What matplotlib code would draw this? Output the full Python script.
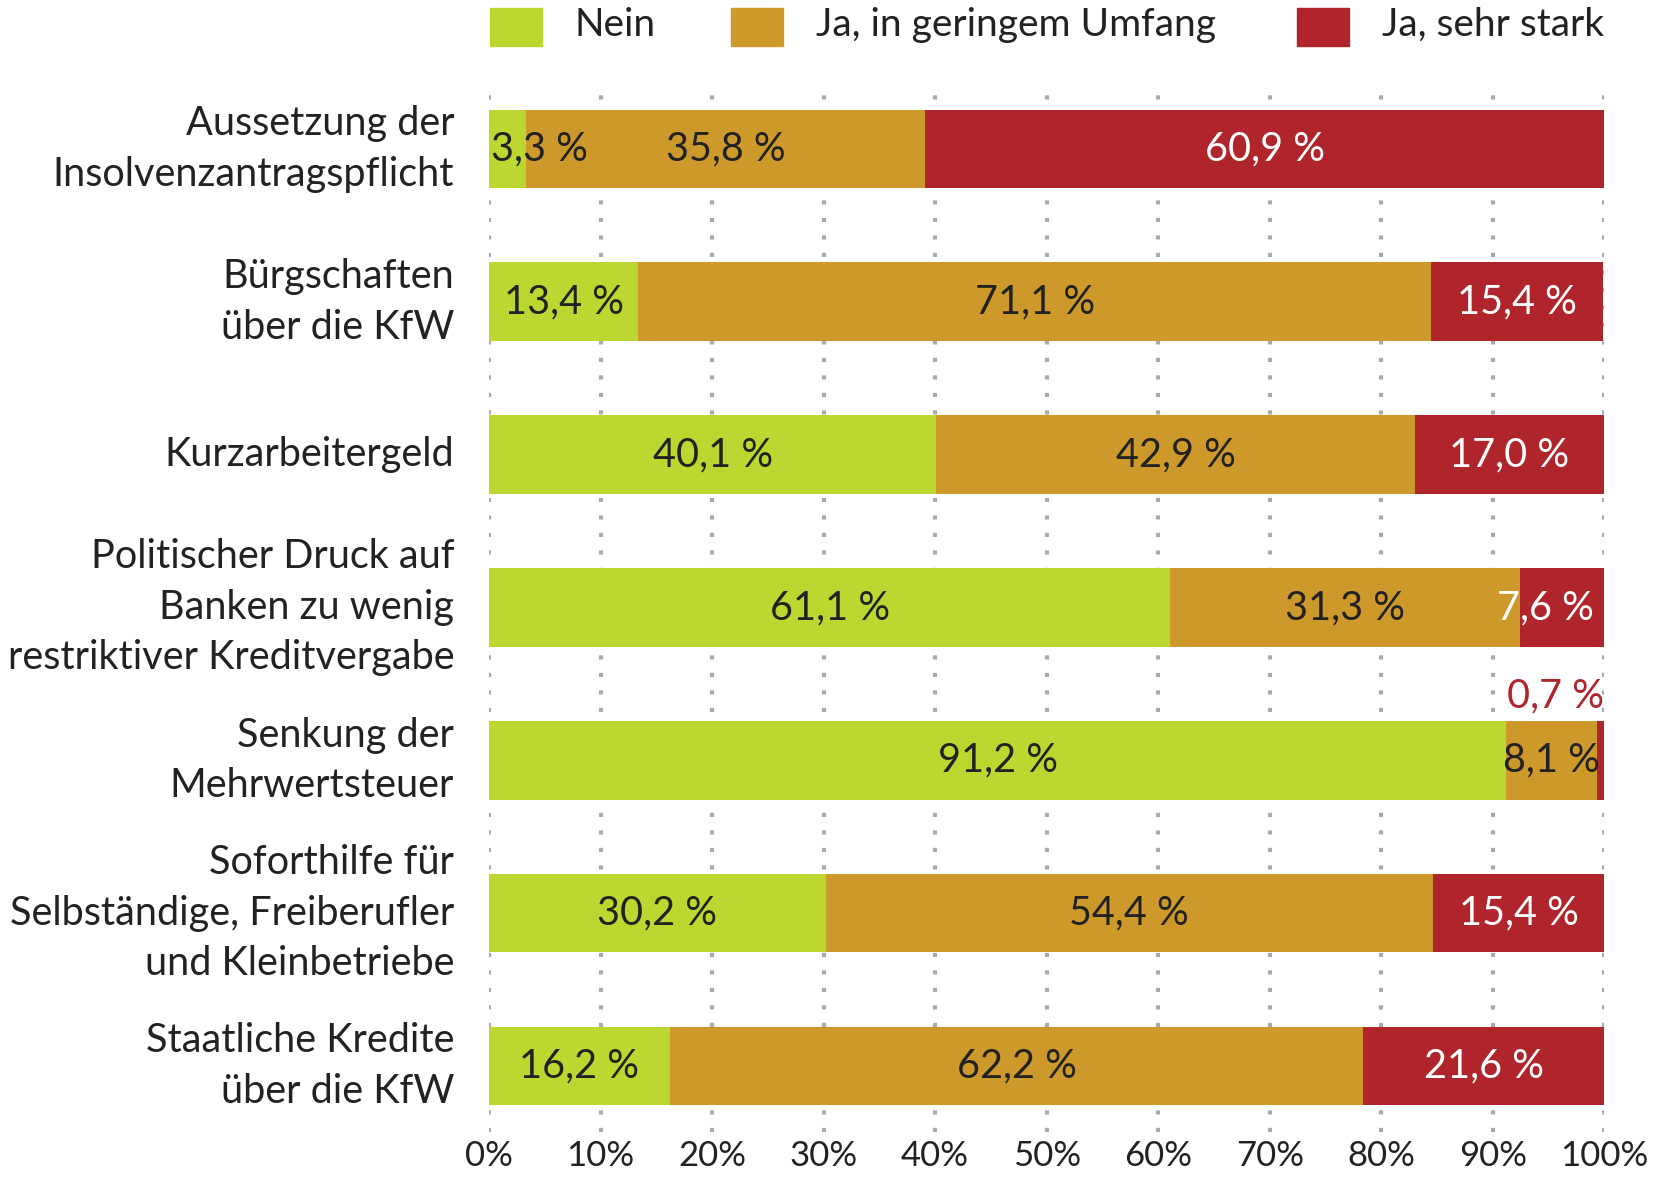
import matplotlib
matplotlib.use("Agg")
import matplotlib.pyplot as plt
from matplotlib.patches import Rectangle

plt.rcParams['font.family'] = ['Lato', 'DejaVu Sans']

categories = [
    "Aussetzung der\nInsolvenzantragspflicht",
    "Bürgschaften\nüber die KfW",
    "Kurzarbeitergeld",
    "Politischer Druck auf\nBanken zu wenig\nrestriktiver Kreditvergabe",
    "Senkung der\nMehrwertsteuer",
    "Soforthilfe für\nSelbständige, Freiberufler\nund Kleinbetriebe",
    "Staatliche Kredite\nüber die KfW",
]
nein = [3.3, 13.4, 40.1, 61.1, 91.2, 30.2, 16.2]
gering = [35.8, 71.1, 42.9, 31.3, 8.1, 54.4, 62.2]
stark = [60.9, 15.4, 17.0, 7.6, 0.7, 15.4, 21.6]
series_names = ["Nein", "Ja, in geringem Umfang", "Ja, sehr stark"]
colors = ["#BED730", "#CD992B", "#B0252B"]
text_colors = ["#222222", "#222222", "white"]
xticks = [0, 10, 20, 30, 40, 50, 60, 70, 80, 90, 100]

fig = plt.figure(figsize=(16.66, 11.82), dpi=100)
ax = fig.add_axes([0.2935, 0.0423, 0.6695, 0.879])

ypos = list(range(len(categories)))
fs = 28.5

left = [0.0] * len(categories)
for s, vals in enumerate([nein, gering, stark]):
    ax.barh(ypos, vals, left=left, height=0.515, color=colors[s], zorder=2)
    for i, v in enumerate(vals):
        lbl = f"{v:.1f} %".replace(".", ",")
        if v < 1:
            ax.text(100, i - 0.30, lbl, ha='right', va='bottom', color=colors[2],
                    fontsize=fs, zorder=3)
        elif v < 5 and s == 0:
            ax.text(left[i] + 0.2, i, lbl, ha='left', va='center',
                    color=text_colors[s], fontsize=fs, zorder=3)
        elif v < 10 and s == 2:
            ax.text(99.1, i, lbl, ha='right', va='center',
                    color=text_colors[s], fontsize=fs, zorder=3)
        else:
            ax.text(left[i] + v / 2, i, lbl, ha='center', va='center',
                    color=text_colors[s], fontsize=fs, zorder=3)
        left[i] += v

ax.set_xlim(0, 100)
ax.set_ylim(6.432, -0.366)
ax.set_yticks(ypos)
ax.set_yticklabels(categories, fontsize=fs, linespacing=1.45)
for lab in ax.get_yticklabels():
    lab.set_va('center')
ax.set_xticks(xticks)
ax.set_xticklabels([f"{t}%" for t in xticks], fontsize=25)
ax.tick_params(axis='both', length=0, colors='#222222')
ax.tick_params(axis='y', pad=25)
ax.tick_params(axis='x', pad=6)
for sp in ax.spines.values():
    sp.set_visible(False)
ax.grid(axis='x', color='#aaaaaa', linestyle=(0, (1, 3.2)), linewidth=3, zorder=0)
ax.set_axisbelow(True)

# legend
leg_x = [490, 731, 1297]
for name, c, x in zip(series_names, colors, leg_x):
    fig.patches.append(Rectangle((x / 1666, 1 - 46 / 1182), 52 / 1666, 38 / 1182,
                                 transform=fig.transFigure, color=c))
    fig.text((x + 85) / 1666, 1 - 25 / 1182, name, fontsize=28, va='center',
             ha='left', color='#222222')

fig.savefig("out.png", dpi=100)
